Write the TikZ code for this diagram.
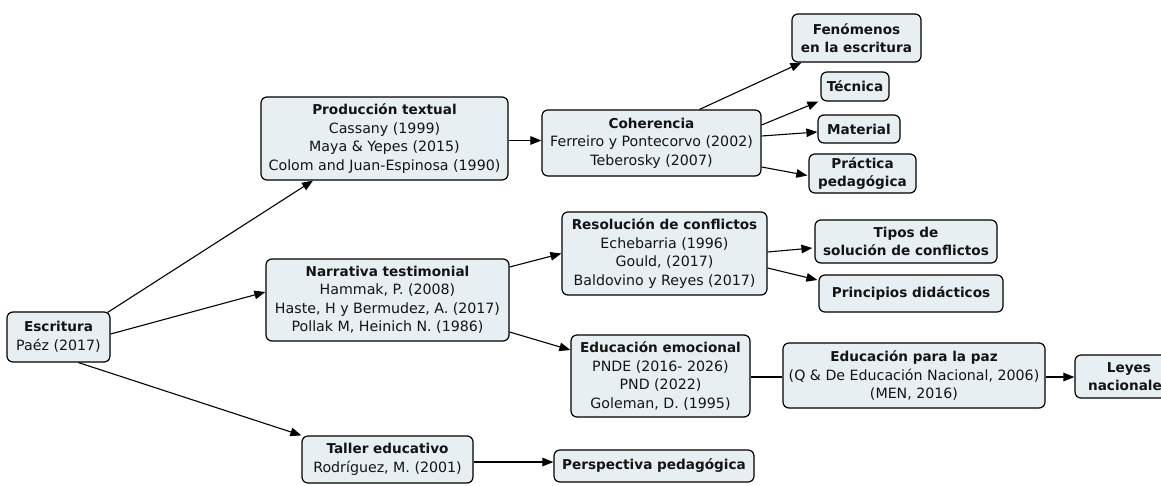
\documentclass[tikz,border=0pt]{standalone}
\usepackage{fontspec}
\setmainfont{DejaVu Sans}
\usetikzlibrary{arrows.meta}
\definecolor{boxfill}{RGB}{231,239,243}
\definecolor{txt}{RGB}{20,20,20}
\newcommand{\tf}{\fontsize{13.6}{18.5}\selectfont\bfseries}
\tikzset{
  cbox/.style={draw=black, line width=1.2pt, rounded corners=6pt, fill=boxfill,
    align=center, inner sep=1pt, text=txt,
    font=\fontsize{14.2}{18.5}\selectfont},
  conn/.style={line width=1.1pt, -{Triangle[length=11pt,width=8.5pt]}},
  plain/.style={line width=1.1pt}
}
\begin{document}
\begin{tikzpicture}[x=1pt,y=-1pt]
\useasboundingbox (0,0) rectangle (1161,485);
\clip (0,0) rectangle (1161,485);
\fill[white] (0,0) rectangle (1161,485);

\node[cbox, minimum width=103pt, minimum height=50pt] (esc) at (58.5,337) {{\tf Escritura}\\Paéz (2017)};
\node[cbox, minimum width=247pt, minimum height=83pt] (prod) at (384.5,138.5) {{\tf Producción textual}\\Cassany (1999)\\Maya \& Yepes (2015)\\Colom and Juan-Espinosa (1990)};
\node[cbox, minimum width=219pt, minimum height=66pt] (coh) at (651.5,143) {{\tf Coherencia}\\Ferreiro y Pontecorvo (2002)\\Teberosky (2007)};
\node[cbox, minimum width=129pt, minimum height=48pt] (fen) at (856.5,38) {\tf Fenómenos\\\tf en la escritura};
\node[cbox, minimum width=68pt, minimum height=29pt] (tec) at (855,86.5) {\tf Técnica};
\node[cbox, minimum width=82pt, minimum height=28pt] (mat) at (859,129) {\tf Material};
\node[cbox, minimum width=107pt, minimum height=39pt] (prac) at (862.5,173.5) {\tf Práctica\\\tf pedagógica};
\node[cbox, minimum width=243pt, minimum height=82pt] (nar) at (387.5,300) {{\tf Narrativa testimonial}\\Hammak, P. (2008)\\Haste, H y Bermudez, A. (2017)\\Pollak M, Heinich N. (1986)};
\node[cbox, minimum width=205pt, minimum height=83pt] (res) at (664.5,253.5) {{\tf Resolución de conflictos}\\Echebarria (1996)\\Gould, (2017)\\Baldovino y Reyes (2017)};
\node[cbox, minimum width=182pt, minimum height=43pt] (tip) at (906,241.5) {\tf Tipos de\\\tf solución de conflictos};
\node[cbox, minimum width=184pt, minimum height=37pt] (pri) at (911,293.5) {\tf Principios didácticos};
\node[cbox, minimum width=179pt, minimum height=82pt] (emo) at (660.5,376) {{\tf Educación emocional}\\PNDE (2016- 2026)\\PND (2022)\\Goleman, D. (1995)};
\node[cbox, minimum width=262pt, minimum height=65pt] (paz) at (914,375.5) {{\tf Educación para la paz}\\(Q \& De Educación Nacional, 2006)\\(MEN, 2016)};
\node[cbox, minimum width=108pt, minimum height=43pt] (ley) at (1129,376.5) {\tf Leyes\\\tf nacionales};
\node[cbox, minimum width=171pt, minimum height=47pt] (tal) at (387.5,459.5) {{\tf Taller educativo}\\Rodríguez, M. (2001)};
\node[cbox, minimum width=200pt, minimum height=32pt] (per) at (654,466) {\tf Perspectiva pedagógica};

\draw[conn] ([xshift=-3pt,yshift=-1pt]esc.north east) -- ([xshift=-71.5pt]prod.south);
\draw[conn] ([yshift=3pt]esc.east) -- ([yshift=8pt]nar.west);
\draw[conn] ([xshift=20pt]esc.south) -- (tal.north west);
\draw[conn] ([yshift=-2pt]prod.east) -- ([yshift=2.5pt]coh.west);
\draw[conn] ([xshift=48pt]coh.north) -- ([xshift=10pt]fen.south west);
\draw[conn] ([yshift=18pt]coh.east) -- ([xshift=-2pt]tec.south west);
\draw[conn] ([yshift=7pt]coh.east) -- ([yshift=-3pt]mat.west);
\draw[conn] ([yshift=-24pt]coh.east) -- ([xshift=-1pt,yshift=-2pt]prac.west);
\draw[conn] ([yshift=33pt]nar.east) -- (res.west);
\draw[conn] ([yshift=-32pt]nar.east) -- ([yshift=26pt]emo.west);
\draw[conn] ([yshift=1.5pt]res.east) -- ([xshift=-2pt,yshift=-6.5pt]tip.west);
\draw[conn] ([yshift=-14.5pt]res.east) -- ([xshift=-1pt,yshift=13.5pt]pri.west);
\draw[plain] ([yshift=-1pt]emo.east) -- ([yshift=-1.5pt]paz.west);
\draw[conn] ([yshift=-1.5pt]paz.east) -- ([yshift=-0.5pt]ley.west);
\draw[conn] ([yshift=-2.5pt]tal.east) -- ([yshift=-2.5pt]tal.east -| per.west);
\end{tikzpicture}
\end{document}
